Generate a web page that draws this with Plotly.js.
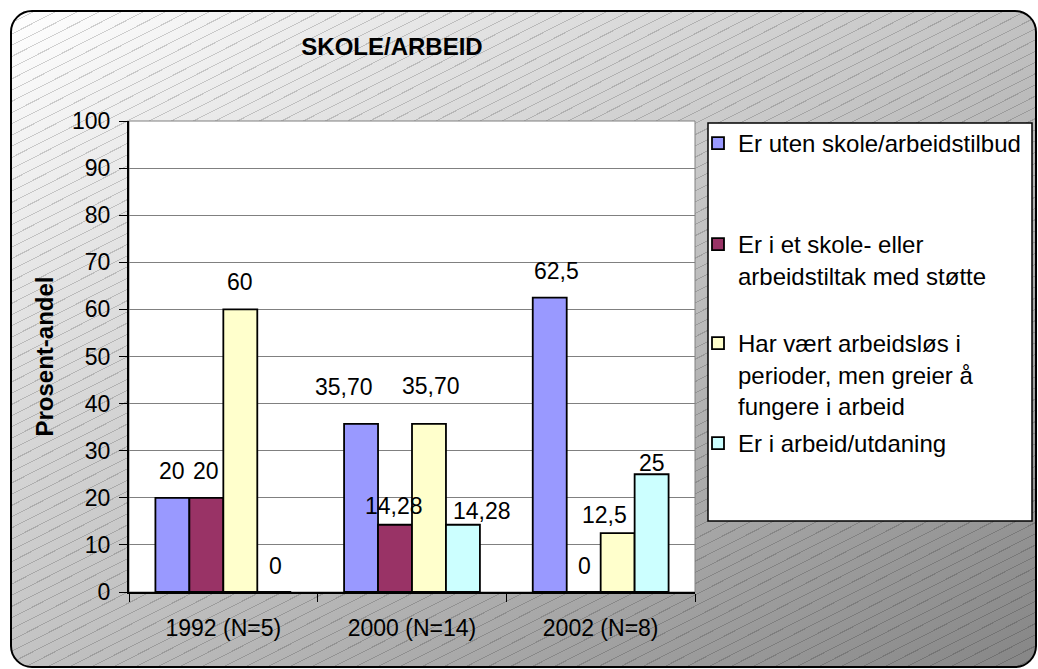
<!DOCTYPE html>
<html>
<head>
<meta charset="utf-8">
<script src="https://cdn.plot.ly/plotly-3.0.1.min.js"></script>
<style>
  html, body { margin: 0; padding: 0; background: #ffffff; }
  #wrap { position: relative; width: 1038px; height: 669px; overflow: hidden; }
  #bg {
    position: absolute; left: 10px; top: 10px; width: 1027px; height: 658px;
    box-sizing: border-box; border: 2px solid #000; border-radius: 22px;
    background:
      repeating-linear-gradient(153deg, rgba(0,0,0,0) 0px, rgba(0,0,0,0) 9px, rgba(0,0,0,0.17) 9px, rgba(0,0,0,0.17) 10px),
      linear-gradient(to bottom right, #ffffff 0%, #868686 100%);
  }
  #chart { position: absolute; left: 0; top: 0; width: 1038px; height: 669px; }
</style>
</head>
<body>
<div id="wrap">
  <div id="bg"></div>
  <div id="chart"></div>
</div>
<script>
// ---- data ----
const categories = ['1992 (N=5)', '2000 (N=14)', '2002 (N=8)'];
const seriesNames = [
  'Er uten skole/arbeidstilbud',
  'Er i et skole- eller<br>arbeidstiltak med støtte',
  'Har vært arbeidsløs i<br>perioder, men greier å<br>fungere i arbeid',
  'Er i arbeid/utdaning'
];
const utenTilbud   = [20, 35.7, 62.5];
const tiltakStotte = [20, 14.28, 0];
const arbeidslos   = [60, 35.7, 12.5];
const iArbeid      = [0, 14.28, 25];
const labelsUten    = ['20', '35,70', '62,5'];
const labelsTiltak  = ['20', '14,28', '0'];
const labelsLos     = ['60', '35,70', '12,5'];
const labelsArbeid  = ['0', '14,28', '25'];
const yTicks = [0, 10, 20, 30, 40, 50, 60, 70, 80, 90, 100];

// ---- style ----
const FONT = '"Liberation Sans", Arial, Helvetica, sans-serif';
const colors = ['#9999FF', '#993366', '#FFFFCC', '#CCFFFF'];
const margin = {l: 129, r: 343, t: 121, b: 77};
const W = 1038, H = 669;
const bargap = 0.28;
const plotW = W - margin.l - margin.r;
const barPx = plotW / categories.length * (1 - bargap) / 4;
// data label nudges (dx px, gap px of label centre above bar top), as in the reference
const labelNudge = [
  [[0, 27], [-17, 37], [7, 27]],
  [[0, 27], [-1, 19], [1, 26]],
  [[0, 27], [2, 38], [-13, 18]],
  [[1, 26], [19, 14], [0, 11]]
];
const legendTops = [121, 222, 321, 421];

const values = [utenTilbud, tiltakStotte, arbeidslos, iArbeid];
const labels = [labelsUten, labelsTiltak, labelsLos, labelsArbeid];
const legendIds = ['legend', 'legend2', 'legend3', 'legend4'];

const traces = values.map((v, i) => ({
  type: 'bar',
  name: seriesNames[i],
  x: categories,
  y: v,
  legend: legendIds[i],
  marker: {color: colors[i], line: {color: '#000000', width: 1.8}},
  hoverinfo: 'x+y'
}));

const annotations = [];
values.forEach((v, i) => {
  v.forEach((val, j) => {
    annotations.push({
      x: categories[j], y: val, xref: 'x', yref: 'y',
      text: labels[i][j], showarrow: false,
      xanchor: 'center', yanchor: 'middle',
      xshift: (i - 1.5) * barPx + labelNudge[i][j][0],
      yshift: labelNudge[i][j][1],
      font: {family: FONT, size: 23, color: '#000'}
    });
  });
});

const plotH = H - margin.t - margin.b;
const toPaperY = py => (H - margin.b - py) / plotH;
const toPaperX = px => (px - margin.l) / plotW;

const layout = {
  width: W, height: H,
  margin: margin,
  paper_bgcolor: 'rgba(0,0,0,0)',
  plot_bgcolor: '#ffffff',
  font: {family: FONT, size: 23, color: '#000'},
  barmode: 'group',
  bargap: bargap,
  bargroupgap: 0,
  title: {
    text: 'SKOLE/ARBEID',
    font: {family: FONT, size: 24, color: '#000', weight: 'bold'},
    xref: 'container', yref: 'container',
    x: 392 / W, xanchor: 'center',
    y: 1 - 47 / H, yanchor: 'middle'
  },
  xaxis: {
    type: 'category',
    showline: true, linecolor: '#000', linewidth: 2,
    ticks: 'outside', tickson: 'boundaries', ticklen: 8, tickcolor: '#000', tickwidth: 1,
    ticklabelstandoff: 14,
    tickfont: {family: FONT, size: 23, color: '#000'},
    showgrid: false, zeroline: false, fixedrange: true
  },
  yaxis: {
    range: [0, 100], tickvals: yTicks, ticktext: yTicks.map(String),
    showline: true, linecolor: '#000', linewidth: 2,
    ticks: 'outside', ticklen: 8, tickcolor: '#000', tickwidth: 1,
    ticklabelstandoff: 4,
    tickfont: {family: FONT, size: 23, color: '#000'},
    showgrid: true, gridcolor: '#808080', gridwidth: 1,
    zeroline: false, fixedrange: true,
    title: {text: 'Prosent-andel', standoff: 12,
      font: {family: FONT, size: 24, color: '#000', weight: 'bold'}}
  },
  shapes: [
    {type: 'rect', xref: 'paper', yref: 'paper', x0: 0, x1: 1, y0: 0, y1: 1,
     line: {color: '#808080', width: 1}, layer: 'below'},
    {type: 'rect', xref: 'paper', yref: 'paper',
     x0: toPaperX(708), x1: toPaperX(1032), y0: toPaperY(521), y1: toPaperY(123),
     fillcolor: '#ffffff', line: {color: '#000000', width: 1.5}, layer: 'below'}
  ],
  annotations: annotations,
  showlegend: true
};
legendIds.forEach((id, i) => {
  layout[id] = {
    x: toPaperX(698), xanchor: 'left',
    y: toPaperY(legendTops[i]), yanchor: 'top',
    bgcolor: 'rgba(0,0,0,0)', borderwidth: 0,
    valign: 'top', itemwidth: 30,
    font: {family: FONT, size: 24, color: '#000'}
  };
});

Plotly.newPlot('chart', traces, layout, {displayModeBar: false, staticPlot: true});
</script>
</body>
</html>
